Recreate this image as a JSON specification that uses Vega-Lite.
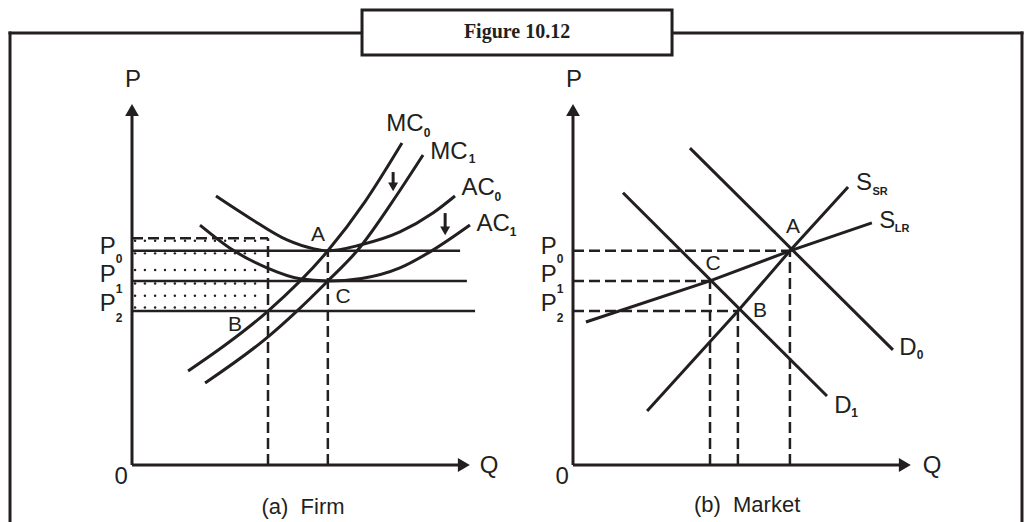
{
"$schema":"https://vega.github.io/schema/vega-lite/v6.json",
"width":1032,"height":522,"padding":0,"autosize":{"type":"none"},
"background":"white",
"config":{"view":{"stroke":null},"text":{"font":"Liberation Sans","color":"#231f20"}},
"resolve":{"scale":{"x":"independent","y":"independent"}},
"layer":[
{
"encoding":{"x":{"field":"x","type":"quantitative","scale":{"domain":[0,100],"range":[0,1032],"nice":false,"zero":false},"axis":null},
"y":{"field":"y","type":"quantitative","scale":{"domain":[0,100],"range":[0,522],"nice":false,"zero":false},"axis":null}},
"layer":[
{"data":{"values":[{"x":0.97,"x2":0.97,"y":6.32,"y2":100},{"x":99.03,"x2":99.03,"y":6.32,"y2":100},{"x":0.97,"x2":35.08,"y":6.32,"y2":6.32},{"x":65.12,"x2":99.03,"y":6.32,"y2":6.32}]},
"mark":{"type":"rule","strokeWidth":3,"color":"#231f20","strokeCap":"square"},
"encoding":{"x2":{"field":"x2"},"y2":{"field":"y2"}}},
{"data":{"values":[{"x":35.08,"x2":65.12,"y":1.92,"y2":10.54}]},
"mark":{"type":"rect","fill":"white","stroke":"#231f20","strokeWidth":3},
"encoding":{"x2":{"field":"x2"},"y2":{"field":"y2"}}},
{"data":{"values":[{"x":50.1,"y":6.2,"t":"Figure 10.12"}]},
"mark":{"type":"text","font":"Liberation Serif","fontWeight":"bold","fontSize":20,"baseline":"middle","align":"center"},
"encoding":{"text":{"field":"t"}}}
]
},
{
"encoding":{"x":{"field":"q","type":"quantitative","scale":{"domain":[0,100],"range":[132,472],"nice":false,"zero":false},"axis":null},
"y":{"field":"p","type":"quantitative","scale":{"domain":[0,100],"range":[465,102],"nice":false,"zero":false},"axis":null}},
"layer":[
{"data":{"values":[{"p":61.8,"q":[0.9,3.8,6.8,9.7,12.6,15.6,18.5,21.5,24.4,27.4,30.3,33.2,36.2]},{"p":58.3,"q":[0.9,3.8,6.8,9.7,12.6,15.6,18.5,21.5,24.4,27.4,30.3,33.2,36.2]},{"p":53.7,"q":[0.9,3.8,6.8,9.7,12.6,15.6,18.5,21.5,24.4,27.4,30.3,33.2,36.2]},{"p":50.0,"q":[0.9,3.8,6.8,9.7,12.6,15.6,18.5,21.5,24.4,27.4,30.3,33.2,36.2]},{"p":46.6,"q":[0.9,3.8,6.8,9.7,12.6,15.6,18.5,21.5,24.4,27.4,30.3,33.2,36.2]},{"p":43.4,"q":[0.9,3.8,6.8,9.7,12.6,15.6,18.5,21.5,24.4,27.4,30.3,33.2,36.2]}]},
"transform":[{"flatten":["q"]}],
"mark":{"type":"circle","size":6,"color":"#231f20","opacity":1}},
{"data":{"values":[{"q":0,"q2":40,"p":62.5,"p2":62.5},{"q":40,"q2":40,"p":0,"p2":62.5},{"q":57.6,"q2":57.6,"p":0,"p2":59}]},
"mark":{"type":"rule","strokeWidth":2.5,"strokeDash":[11,5],"color":"#231f20"},
"encoding":{"x2":{"field":"q2"},"y2":{"field":"p2"}}},
{"data":{"values":[{"q":0,"q2":96.5,"p":59,"p2":59},{"q":0,"q2":98.5,"p":50.7,"p2":50.7},{"q":0,"q2":100.9,"p":42.4,"p2":42.4}]},
"mark":{"type":"rule","strokeWidth":2.5,"color":"#231f20"},
"encoding":{"x2":{"field":"q2"},"y2":{"field":"p2"}}},
{"data":{"values":[{"q":0,"q2":0,"p":0,"p2":97},{"q":0,"q2":97,"p":0,"p2":0},{"q":76.8,"q2":76.8,"p":80.7,"p2":77},{"q":92.1,"q2":92.1,"p":69.4,"p2":65}]},
"mark":{"type":"rule","strokeWidth":3,"color":"#231f20"},
"encoding":{"x2":{"field":"q2"},"y2":{"field":"p2"}}},
{"data":{"values":[{"q":0,"p":97.8,"s":"triangle-up","z":190},{"q":97.6,"p":0,"s":"triangle-right","z":190},{"q":76.8,"p":76.6,"s":"triangle-down","z":100},{"q":92.1,"p":64.5,"s":"triangle-down","z":100}]},
"mark":{"type":"point","filled":true,"opacity":1,"color":"#231f20"},
"encoding":{"shape":{"field":"s","type":"nominal","scale":null},"size":{"field":"z","type":"quantitative","scale":null}}},
{"data":{"values":[
{"id":"AC0","q":24.7,"p":74.1},{"id":"AC0","q":34.7,"p":68.0},{"id":"AC0","q":45.6,"p":62.0},{"id":"AC0","q":53.3,"p":59.6},{"id":"AC0","q":57.6,"p":59.0},{"id":"AC0","q":67.1,"p":60.6},{"id":"AC0","q":78.8,"p":64.2},{"id":"AC0","q":88.5,"p":69.4},{"id":"AC0","q":95.0,"p":74.1},
{"id":"AC1","q":20.0,"p":66.1},{"id":"AC1","q":29.7,"p":59.2},{"id":"AC1","q":39.7,"p":54.3},{"id":"AC1","q":49.4,"p":51.3},{"id":"AC1","q":57.6,"p":50.7},{"id":"AC1","q":67.5,"p":51.4},{"id":"AC1","q":78.8,"p":54.3},{"id":"AC1","q":88.5,"p":59.2},{"id":"AC1","q":99.4,"p":66.1},
{"id":"MC0","q":16.5,"p":25.9},{"id":"MC0","q":28.2,"p":33.6},{"id":"MC0","q":40,"p":42.4},{"id":"MC0","q":57.6,"p":59},{"id":"MC0","q":68.5,"p":72.5},{"id":"MC0","q":79.4,"p":88.7},
{"id":"MC1","q":21.5,"p":22.6},{"id":"MC1","q":40,"p":35.3},{"id":"MC1","q":48.5,"p":42.4},{"id":"MC1","q":57.6,"p":50.7},{"id":"MC1","q":66.2,"p":59},{"id":"MC1","q":78.2,"p":74.8},{"id":"MC1","q":85.6,"p":85.4}
]},
"mark":{"type":"line","interpolate":"monotone","strokeWidth":3,"color":"#231f20"},
"encoding":{"detail":{"field":"id"}}},
{"data":{"values":[
{"q":0.3,"p":106.1,"t":"P","k":"m"},{"q":80.3,"p":93.9,"t":"MC","k":"m"},{"q":93.2,"p":86.2,"t":"MC","k":"m"},{"q":101.8,"p":76.3,"t":"AC","k":"m"},{"q":106.2,"p":66.4,"t":"AC","k":"m"},
{"q":-7.1,"p":60.1,"t":"P","k":"m"},{"q":-7.1,"p":52.3,"t":"P","k":"m"},{"q":-7.1,"p":44.4,"t":"P","k":"m"},{"q":-3.2,"p":-3.3,"t":"0","k":"m"},{"q":105,"p":-0.3,"t":"Q","k":"m"},
{"q":54.7,"p":63.4,"t":"A","k":"pt"},{"q":62.1,"p":46.3,"t":"C","k":"pt"},{"q":30.3,"p":38.6,"t":"B","k":"pt"},
{"q":86.8,"p":91.5,"t":"0","k":"s"},{"q":100,"p":84.3,"t":"1","k":"s"},{"q":107.6,"p":73.8,"t":"0","k":"s"},{"q":112.1,"p":64.2,"t":"1","k":"s"},
{"q":-3.8,"p":56.7,"t":"0","k":"s"},{"q":-3.8,"p":48.5,"t":"1","k":"s"},{"q":-3.8,"p":40.5,"t":"2","k":"s"},
{"q":50.3,"p":-11.6,"t":"(a)\u00a0 Firm","k":"c"}
]},
"layer":[
{"transform":[{"filter":"datum.k=='m'"}],"mark":{"type":"text","fontSize":24,"baseline":"middle","align":"center"},"encoding":{"text":{"field":"t"}}},
{"transform":[{"filter":"datum.k=='pt'"}],"mark":{"type":"text","fontSize":21,"baseline":"middle","align":"center"},"encoding":{"text":{"field":"t"}}},
{"transform":[{"filter":"datum.k=='s'"}],"mark":{"type":"text","fontSize":12,"fontWeight":"bold","baseline":"middle","align":"center"},"encoding":{"text":{"field":"t"}}},
{"transform":[{"filter":"datum.k=='c'"}],"mark":{"type":"text","fontSize":22,"baseline":"middle","align":"center"},"encoding":{"text":{"field":"t"}}}
]}
]
},
{
"encoding":{"x":{"field":"q","type":"quantitative","scale":{"domain":[0,100],"range":[573,913],"nice":false,"zero":false},"axis":null},
"y":{"field":"p","type":"quantitative","scale":{"domain":[0,100],"range":[465,102],"nice":false,"zero":false},"axis":null}},
"layer":[
{"data":{"values":[{"q":0,"q2":63.8,"p":59,"p2":59},{"q":0,"q2":40.3,"p":50.7,"p2":50.7},{"q":0,"q2":48.5,"p":42.4,"p2":42.4},{"q":40.3,"q2":40.3,"p":0,"p2":50.7},{"q":48.5,"q2":48.5,"p":0,"p2":42.4},{"q":63.8,"q2":63.8,"p":0,"p2":59}]},
"mark":{"type":"rule","strokeWidth":2.5,"strokeDash":[11,5],"color":"#231f20"},
"encoding":{"x2":{"field":"q2"},"y2":{"field":"p2"}}},
{"data":{"values":[{"q":0,"q2":0,"p":0,"p2":97},{"q":0,"q2":97,"p":0,"p2":0}]},
"mark":{"type":"rule","strokeWidth":3,"color":"#231f20"},
"encoding":{"x2":{"field":"q2"},"y2":{"field":"p2"}}},
{"data":{"values":[{"q":0,"p":97.8,"s":"triangle-up"},{"q":97.6,"p":0,"s":"triangle-right"}]},
"mark":{"type":"point","filled":true,"opacity":1,"color":"#231f20","size":190},
"encoding":{"shape":{"field":"s","type":"nominal","scale":null}}},
{"data":{"values":[
{"id":"D0","q":34.4,"p":87.3},{"id":"D0","q":94.1,"p":31.7},
{"id":"D1","q":14.7,"p":75.0},{"id":"D1","q":74.7,"p":19.0},
{"id":"SSR","q":21.8,"p":14.9},{"id":"SSR","q":48.5,"p":42.4},{"id":"SSR","q":63.8,"p":59},{"id":"SSR","q":80.9,"p":76.6},
{"id":"SLR","q":3.8,"p":39.4},{"id":"SLR","q":40.3,"p":50.7},{"id":"SLR","q":63.8,"p":59},{"id":"SLR","q":87.9,"p":66.7}
]},
"mark":{"type":"line","strokeWidth":3,"color":"#231f20"},
"encoding":{"detail":{"field":"id"}}},
{"data":{"values":[
{"q":0.3,"p":106.1,"t":"P","k":"m"},{"q":85.6,"p":77.7,"t":"S","k":"m"},{"q":92.4,"p":67.2,"t":"S","k":"m"},{"q":98.5,"p":32.2,"t":"D","k":"m"},{"q":79.4,"p":16.3,"t":"D","k":"m"},
{"q":-7.1,"p":60.1,"t":"P","k":"m"},{"q":-7.1,"p":52.3,"t":"P","k":"m"},{"q":-7.1,"p":44.4,"t":"P","k":"m"},{"q":-3.2,"p":-3.3,"t":"0","k":"m"},{"q":105.6,"p":-0.3,"t":"Q","k":"m"},
{"q":64.7,"p":65.6,"t":"A","k":"pt"},{"q":41.2,"p":55.4,"t":"C","k":"pt"},{"q":55.0,"p":42.4,"t":"B","k":"pt"},
{"q":90.3,"p":75.2,"t":"SR","k":"sb"},{"q":96.8,"p":64.9,"t":"LR","k":"sb"},
{"q":102.1,"p":30.2,"t":"0","k":"s"},{"q":82.8,"p":14.3,"t":"1","k":"s"},
{"q":-3.8,"p":56.7,"t":"0","k":"s"},{"q":-3.8,"p":48.5,"t":"1","k":"s"},{"q":-3.8,"p":40.5,"t":"2","k":"s"},
{"q":51.2,"p":-11,"t":"(b)\u00a0 Market","k":"c"}
]},
"layer":[
{"transform":[{"filter":"datum.k=='m'"}],"mark":{"type":"text","fontSize":24,"baseline":"middle","align":"center"},"encoding":{"text":{"field":"t"}}},
{"transform":[{"filter":"datum.k=='pt'"}],"mark":{"type":"text","fontSize":21,"baseline":"middle","align":"center"},"encoding":{"text":{"field":"t"}}},
{"transform":[{"filter":"datum.k=='s'"}],"mark":{"type":"text","fontSize":12,"fontWeight":"bold","baseline":"middle","align":"center"},"encoding":{"text":{"field":"t"}}},
{"transform":[{"filter":"datum.k=='sb'"}],"mark":{"type":"text","fontSize":11,"fontWeight":"bold","baseline":"middle","align":"center"},"encoding":{"text":{"field":"t"}}},
{"transform":[{"filter":"datum.k=='c'"}],"mark":{"type":"text","fontSize":22,"baseline":"middle","align":"center"},"encoding":{"text":{"field":"t"}}}
]}
]
}
]
}
